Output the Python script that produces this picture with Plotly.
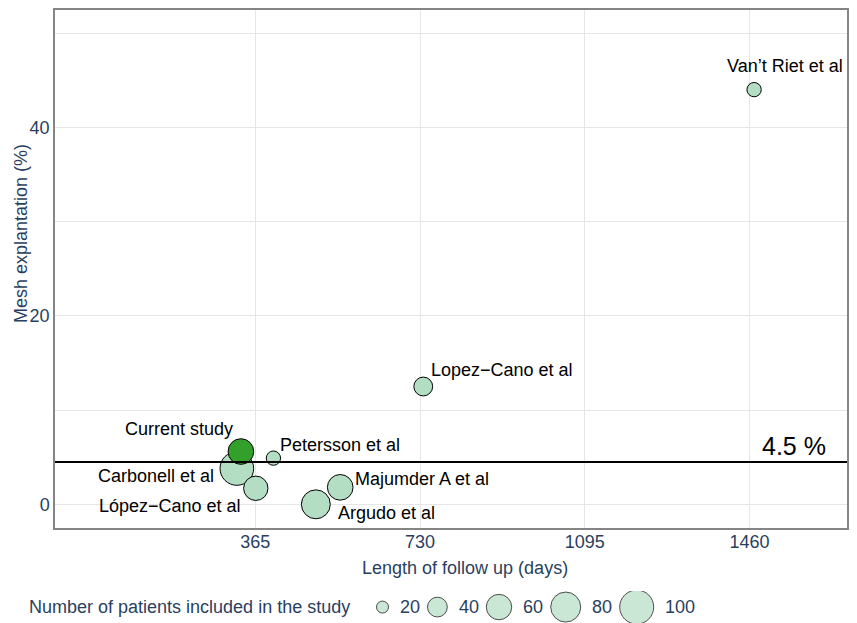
import numpy as np
import plotly.graph_objects as go

# ---------------- data ----------------
studies = ["Carbonell et al", "López−Cano et al", "Petersson et al",
           "Majumder A et al", "Argudo et al", "Lopez−Cano et al", "Van’t Riet et al"]
follow_up_days = [324, 366, 405, 553, 499, 737, 1470]
explantation_pct = [3.8, 1.7, 4.9, 1.8, 0.0, 12.5, 44.0]
patients = [98, 56, 25, 61, 75, 37, 25]

current_label = ["Current study"]
current_follow_up = [333]
current_explantation = [5.6]
current_patients = [61]

reference_pct = 4.5
x_ticks = [365, 730, 1095, 1460]
y_ticks = [0, 20, 40]
y_minor = [10, 30, 50]
legend_breaks = [20, 40, 60, 80, 100]

# ---------------- styles ----------------
FONT = "Liberation Sans, Arial, sans-serif"
AXIS_COL = "#2a3f5f"
LIGHT = "rgb(180,222,196)"
DARK = "rgb(51,160,44)"


def diam(n):
    """area-linear size scale (visual diameter in px)"""
    n = np.asarray(n, dtype=float)
    return np.sqrt(169 + 13.2 * (n - 20))


LW = 1.0

# label placement (anchor, xshift, yshift) relative to each point
label_place = {
    "Carbonell et al": ("right", -21, -8),
    "López−Cano et al": ("right", -13, -18),
    "Petersson et al": ("left", 5, 13),
    "Majumder A et al": ("left", 13, 8),
    "Argudo et al": ("left", 20, -9),
    "Lopez−Cano et al": ("left", 6, 17),
    "Van’t Riet et al": ("center", 31, 24),
    "Current study": ("right", -6, 23),
}

fig = go.Figure()

fig.add_trace(go.Scatter(
    x=follow_up_days, y=explantation_pct, mode="markers",
    marker=dict(size=diam(patients) - LW, color=LIGHT,
                line=dict(color="black", width=LW), opacity=1),
    xaxis="x", yaxis="y", showlegend=False, hoverinfo="text", text=studies,
))
fig.add_trace(go.Scatter(
    x=current_follow_up, y=current_explantation, mode="markers",
    marker=dict(size=diam(current_patients) - LW, color=DARK,
                line=dict(color="black", width=LW), opacity=1),
    xaxis="x", yaxis="y", showlegend=False, hoverinfo="text", text=current_label,
))

annotations = []
for name, fx, ey in list(zip(studies, follow_up_days, explantation_pct)) + \
        list(zip(current_label, current_follow_up, current_explantation)):
    anc, xs, ys = label_place[name]
    annotations.append(dict(x=fx, y=ey, xref="x", yref="y", text=name,
                            showarrow=False, xanchor=anc, yanchor="middle",
                            xshift=xs, yshift=ys,
                            font=dict(family=FONT, size=18, color="black")))

# reference line and its label
fig.add_shape(type="line", xref="paper", x0=0, x1=1, yref="y",
              y0=reference_pct, y1=reference_pct,
              line=dict(color="black", width=2), layer="above")
annotations.append(dict(x=1559, y=reference_pct, xref="x", yref="y",
                        text=f"{reference_pct} %", showarrow=False,
                        xanchor="center", yanchor="middle", yshift=16,
                        font=dict(family=FONT, size=25, color="black")))

# axis titles
annotations.append(dict(x=0.5177, y=0.0897, xref="paper", yref="paper",
                        text="Length of follow up (days)", showarrow=False,
                        xanchor="center", yanchor="middle",
                        font=dict(family=FONT, size=18, color=AXIS_COL)))
annotations.append(dict(x=-0.0429, y=0.6346, xref="paper", yref="paper",
                        text="Mesh explantation (%)", showarrow=False,
                        textangle=-90, xanchor="center", yanchor="middle",
                        font=dict(family=FONT, size=18, color=AXIS_COL)))

# ---------------- size legend (drawn on a hidden strip of axes) -----------
annotations.append(dict(x=-0.0354, y=0, xref="paper", yref="y2",
                        text="Number of patients included in the study",
                        showarrow=False, xanchor="left", yanchor="middle",
                        font=dict(family=FONT, size=18, color=AXIS_COL)))
leg_d = diam(legend_breaks)
cursor = 321.0
leg_x, lab_x = [], []
for b, d in zip(legend_breaks, leg_d):
    leg_x.append(cursor + d / 2)
    lx = cursor + d + 9
    lab_x.append(lx)
    cursor = lx + 10 * len(str(b)) + 9
fig.add_trace(go.Scatter(
    x=leg_x, y=[0] * len(legend_breaks), mode="markers",
    marker=dict(size=leg_d - LW, color=LIGHT, line=dict(color="black", width=LW)),
    xaxis="x2", yaxis="y2", showlegend=False, hoverinfo="skip",
))
for b, lx in zip(legend_breaks, lab_x):
    annotations.append(dict(x=lx, y=0, xref="x2", yref="y2", text=str(b),
                            showarrow=False, xanchor="left", yanchor="middle",
                            font=dict(family=FONT, size=18, color=AXIS_COL)))

# the page body adds an 8px offset, so the figure is 8px smaller
fig.update_layout(
    width=849, height=615,
    margin=dict(l=47, r=10.3, t=2, b=0),
    paper_bgcolor="white", plot_bgcolor="white",
    font=dict(family=FONT, size=18, color=AXIS_COL),
    showlegend=False,
    annotations=annotations,
    xaxis=dict(domain=[0, 1], anchor="y", range=[-78.9, 1675.8],
               tickvals=x_ticks, ticktext=[str(v) for v in x_ticks],
               showgrid=True, gridcolor="#e6e6e6", gridwidth=1,
               zeroline=False, showline=True, linecolor="#858585",
               linewidth=1.5, mirror=True, ticks="", ticklabelstandoff=-3,
               tickfont=dict(family=FONT, size=18, color=AXIS_COL)),
    yaxis=dict(domain=[0.1555, 1], anchor="x", range=[-2.48, 52.45],
               tickvals=y_ticks, ticktext=[str(v) for v in y_ticks],
               showgrid=True, gridcolor="#e6e6e6", gridwidth=1,
               minor=dict(tickvals=y_minor, showgrid=True,
                          gridcolor="#e6e6e6", gridwidth=1, ticks=""),
               zeroline=False, showline=True, linecolor="#858585",
               linewidth=1.5, mirror=True, ticks="",
               tickfont=dict(family=FONT, size=18, color=AXIS_COL)),
    xaxis2=dict(domain=[0, 1], anchor="y2", range=[0, 792], visible=False,
                fixedrange=True),
    yaxis2=dict(domain=[0, 0.052], anchor="x2", range=[-1, 1], visible=False,
                fixedrange=True),
)

fig.write_html("out.html")
